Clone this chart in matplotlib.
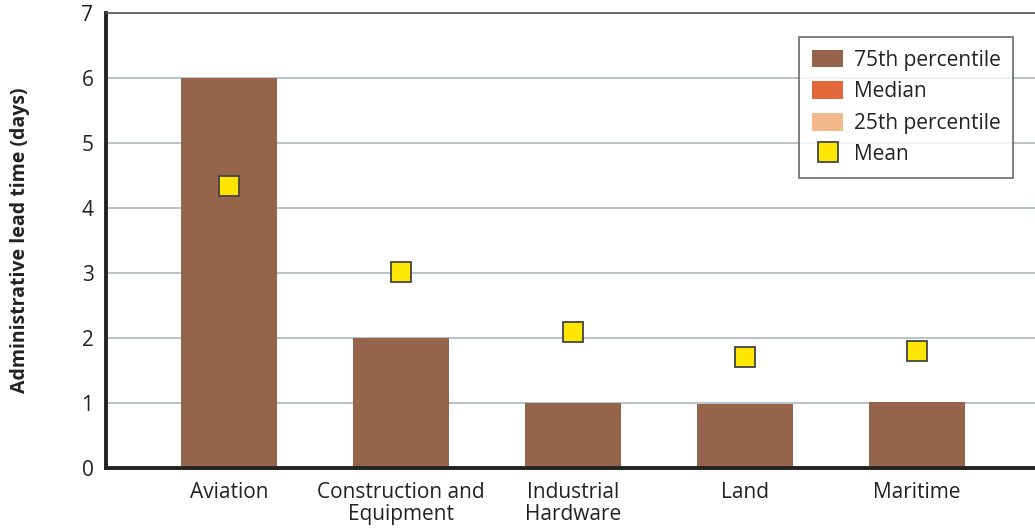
import matplotlib
matplotlib.use("Agg")
import matplotlib.pyplot as plt
import numpy as np

categories = ["Aviation", "Construction and\nEquipment", "Industrial\nHardware", "Land", "Maritime"]
p75 = [6.0, 2.0, 1.0, 0.99, 1.01]
median = [0, 0, 0, 0, 0]
p25 = [0, 0, 0, 0, 0]
mean = [4.34, 3.02, 2.09, 1.71, 1.80]
yticks = [0, 1, 2, 3, 4, 5, 6, 7]

plt.rcParams['font.family'] = ['Open Sans', 'DejaVu Sans']

fig = plt.figure(figsize=(10.35, 5.29), dpi=100)
ax = fig.add_axes([106/1035, 1 - 468/529, 1 - 106/1035, (468 - 13)/529])

x = np.arange(len(categories))
w = 0.56
b1 = ax.bar(x, p75, width=w, color="#96644a", label="75th percentile", zorder=2)
b2 = ax.bar(x, median, width=w, color="#e2673a", label="Median", zorder=2)
b3 = ax.bar(x, p25, width=w, color="#f2b98a", label="25th percentile", zorder=2)
m, = ax.plot(x, mean, linestyle="none", marker="s", markersize=14.5,
             markerfacecolor="#ffe600", markeredgecolor="#444444", markeredgewidth=1.3,
             label="Mean", zorder=3)

ax.set_ylim(0, 7)
ax.set_xlim(-0.715, 4.686)
ax.set_yticks(yticks)
ax.set_xticks(x)
ax.set_xticklabels(categories, fontsize=15, color="#222222", linespacing=1.1)
ax.tick_params(axis="y", labelsize=15, colors="#222222", length=0, pad=9)
ax.tick_params(axis="x", length=0, pad=10)
ax.grid(axis="y", color="#a9b8c4", linewidth=1.2, zorder=0)
ax.set_axisbelow(True)

for s in ["left", "bottom"]:
    ax.spines[s].set_linewidth(2.8)
    ax.spines[s].set_color("#222222")
ax.spines["top"].set_linewidth(1.2)
ax.spines["top"].set_color("#555555")
ax.spines["right"].set_visible(False)

ax.set_ylabel("Administrative lead time (days)", fontsize=14, fontweight="bold",
              color="#222222", labelpad=37)

leg = ax.legend([b1, b2, b3, m], ["75th percentile", "Median", "25th percentile", "Mean"],
                loc="upper right",
                bbox_to_anchor=((1013-106)/(1035-106), 1 - (37-13)/455),
                bbox_transform=ax.transAxes, frameon=True, fancybox=False,
                fontsize=15, handlelength=1.5, handleheight=0.95,
                borderpad=0.6, labelspacing=0.5, handletextpad=0.5, borderaxespad=0)
leg.get_frame().set_edgecolor("#444444")
leg.get_frame().set_linewidth(1.2)
for t in leg.get_texts():
    t.set_color("#222222")

fig.savefig("out.png", dpi=100)
